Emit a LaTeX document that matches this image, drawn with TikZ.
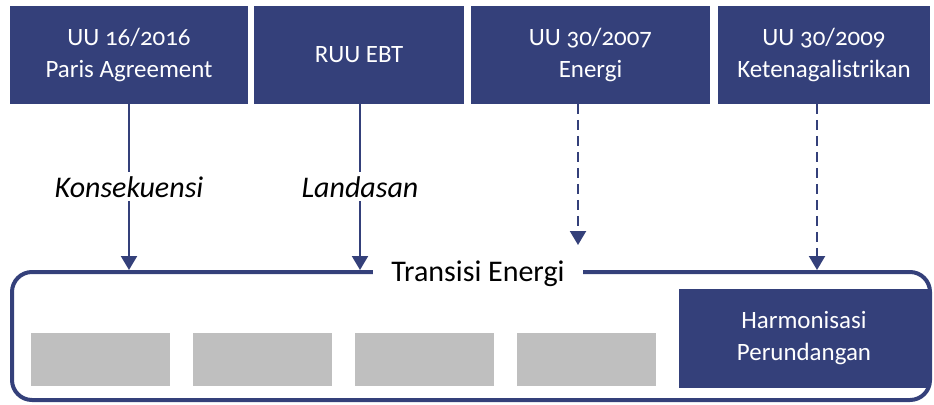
\documentclass[tikz,border=0pt]{standalone}
\usepackage{fontspec}
\setmainfont{Carlito}[Numbers=OldStyle]
\usetikzlibrary{arrows.meta,calc}
\definecolor{navy}{RGB}{52,64,122}
\definecolor{greybox}{RGB}{191,191,191}
\tikzset{
  topbox/.style={fill=navy,text=white,align=center,minimum height=73.5pt,inner sep=0pt,
    font=\fontsize{18.7}{24}\selectfont},
  greyblock/.style={fill=greybox,minimum width=104.25pt,minimum height=39.75pt,inner sep=0pt},
  link/.style={navy,line width=1.6pt,-{Triangle[width=12pt,length=10.5pt]}},
  dlink/.style={link,dash pattern=on 7.5pt off 4.5pt},
  lbl/.style={fill=white,text=black,inner sep=3pt,font=\fontsize{22.5}{26}\selectfont\itshape}
}
\begin{document}
\begin{tikzpicture}[x=0.75pt,y=-0.75pt]
\useasboundingbox (0,0) rectangle (934,404);
% top boxes
\node[topbox,minimum width=178.5pt] (uu16) at (129,54.5) {UU 16/2016\\Paris Agreement};
\node[topbox,minimum width=157.5pt] (ruu) at (359,54.5) {RUU EBT};
\node[topbox,minimum width=179.25pt] (uu07) at (590.5,54.5) {UU 30/2007\\Energi};
\node[topbox,minimum width=159pt] (uu09) at (824,54.5) {UU 30/2009\\Ketenagalistrikan};
% frame
\node[draw=navy,line width=3pt,rounded corners=15pt,minimum width=688.5pt,minimum height=96pt] (frame) at (471,336) {};
\node[fill=white,minimum width=157.5pt,inner ysep=2pt,font=\fontsize{22.5}{26}\selectfont] (title) at (478,274) {Transisi Energi};
\foreach \x/\name in {100.5/g1,262.5/g2,424.5/g3,586.5/g4}
  \node[greyblock] (\name) at (\x,359.5) {};
\node[topbox,minimum width=187.5pt,minimum height=74.25pt] (harm) at (804,338.5) {Harmonisasi\\Perundangan};
% connectors
\coordinate (e3) at (578,245);
\draw[link] (uu16.south) -- node[lbl] {Konsekuensi} (uu16.south |- frame.north);
\draw[link] (ruu.south -| 360,0) -- node[lbl] {Landasan} (360,0 |- frame.north);
\draw[dlink] (uu07.south -| e3) -- (e3);
\draw[dlink] (uu09.south -| 817,0) -- (817,0 |- frame.north);
\end{tikzpicture}
\end{document}
